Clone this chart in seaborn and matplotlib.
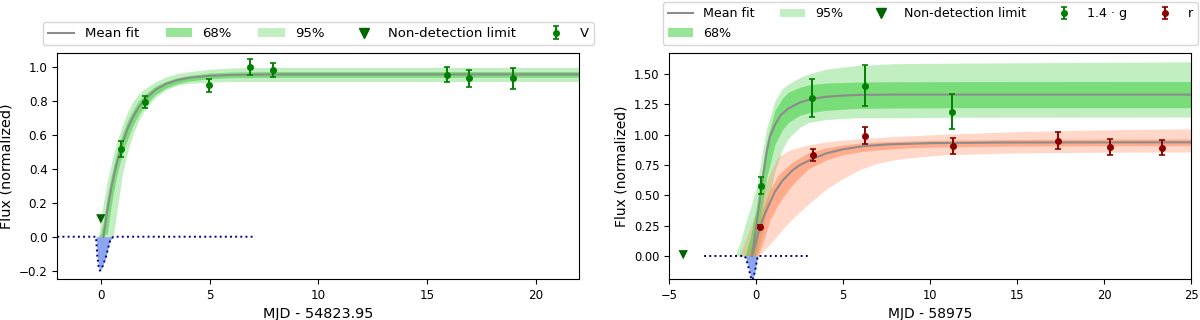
import numpy as np
import pandas as pd
import matplotlib
matplotlib.use("Agg")
import matplotlib.pyplot as plt
from matplotlib.lines import Line2D
from matplotlib.patches import Patch
import seaborn as sns

# ---------------- Left panel (V band) ----------------
V_t = [0.91, 2.02, 4.96, 6.88, 7.9, 15.9, 16.92, 18.94]
V_flux = [0.515, 0.794, 0.89, 1.0, 0.979, 0.954, 0.931, 0.931]
V_err = [0.048, 0.035, 0.04, 0.046, 0.042, 0.042, 0.05, 0.063]
V_nd_t = [0.0]
V_nd_flux = [0.105]

fitV_t = [0.12, 0.3, 0.5, 0.75, 1.0, 1.25, 1.5, 1.75, 2.0, 2.5, 3.0, 3.5, 4.0, 5.0, 6.0, 8.0, 22.0]
fitV_mean = [0.0, 0.155, 0.298, 0.441, 0.553, 0.641, 0.709, 0.763, 0.805, 0.863, 0.899, 0.921, 0.934, 0.947, 0.952, 0.955, 0.955]

bandV_t = [-0.11, 0.0, 0.12, 0.3, 0.5, 0.57, 0.75, 1.0, 1.25, 1.5, 1.75, 2.0, 2.5, 3.0, 3.5, 4.0, 5.0, 6.0, 8.0, 22.0]
V_up95 = [0.0, 0.10, 0.20, 0.33, 0.44, 0.48, 0.56, 0.66, 0.74, 0.80, 0.84, 0.87, 0.91, 0.94, 0.96, 0.97, 0.985, 0.993, 0.997, 0.997]
V_up68 = [0.0, 0.02, 0.09, 0.24, 0.37, 0.41, 0.50, 0.61, 0.69, 0.75, 0.80, 0.835, 0.885, 0.915, 0.935, 0.948, 0.963, 0.969, 0.972, 0.972]
V_lo68 = [0.0, 0.0, 0.0, 0.02, 0.20, 0.25, 0.37, 0.49, 0.58, 0.66, 0.72, 0.77, 0.835, 0.875, 0.90, 0.915, 0.93, 0.936, 0.938, 0.938]
V_lo95 = [0.0, 0.0, 0.0, 0.0, 0.0, 0.0, 0.16, 0.37, 0.51, 0.61, 0.685, 0.745, 0.82, 0.865, 0.89, 0.902, 0.91, 0.913, 0.913, 0.913]

dipV_t = [-2.0, -0.22, -0.19, -0.16, -0.1, -0.04, 0.05, 0.15, 0.24, 0.33, 0.42, 0.5, 0.58, 7.0]
dipV_y = [0.0, 0.0, -0.06, -0.118, -0.175, -0.2, -0.185, -0.15, -0.118, -0.07, -0.027, -0.01, 0.0, 0.0]

# ---------------- Right panel (g and r bands) ----------------
g_t = [0.28, 3.22, 6.26, 11.27]
g_flux = [0.58, 1.303, 1.404, 1.189]
g_err = [0.07, 0.158, 0.168, 0.146]
r_t = [0.22, 3.26, 6.26, 11.31, 17.32, 20.32, 23.34]
r_flux = [0.24, 0.831, 0.992, 0.908, 0.95, 0.90, 0.894]
r_err = [0.012, 0.05, 0.072, 0.067, 0.07, 0.065, 0.065]
R_nd_t = [-4.2]
R_nd_flux = [0.01]

fitg_t = [-0.25, 0.0, 0.11, 0.31, 0.6, 0.8, 1.07, 1.4, 1.84, 2.5, 3.22, 4.0, 5.0, 6.0, 8.0, 25.0]
fitg_mean = [0.0, 0.25, 0.365, 0.58, 0.863, 0.99, 1.08, 1.16, 1.215, 1.265, 1.295, 1.312, 1.322, 1.328, 1.33, 1.33]

bandg_t = [-1.24, -0.9, -0.65, -0.35, -0.07, 0.02, 0.35, 0.6, 1.07, 1.5, 1.84, 2.5, 3.0, 4.0, 5.67, 8.0, 12.0, 25.0]
g_up95 = [0.0, 0.12, 0.255, 0.39, 0.53, 0.57, 0.863, 1.056, 1.278, 1.38, 1.417, 1.47, 1.5, 1.54, 1.568, 1.585, 1.59, 1.60]
g_up68 = [0.0, 0.0, 0.0, 0.15, 0.35, 0.42, 0.72, 0.95, 1.2, 1.3, 1.35, 1.39, 1.41, 1.425, 1.433, 1.436, 1.437, 1.438]
g_lo68 = [0.0, 0.0, 0.0, 0.0, 0.0, 0.08, 0.42, 0.65, 0.92, 1.04, 1.10, 1.16, 1.18, 1.20, 1.215, 1.22, 1.222, 1.222]
g_lo95 = [0.0, 0.0, 0.0, 0.0, 0.0, 0.0, 0.2, 0.4, 0.7, 0.88, 0.97, 1.06, 1.10, 1.125, 1.138, 1.14, 1.143, 1.145]

fitr_t = [-0.25, 0.0, 0.23, 0.5, 1.07, 1.5, 2.03, 2.5, 3.22, 4.0, 5.0, 6.15, 7.6, 10.0, 14.0, 25.0]
fitr_mean = [0.0, 0.13, 0.245, 0.35, 0.53, 0.62, 0.70, 0.75, 0.80, 0.845, 0.88, 0.905, 0.92, 0.93, 0.935, 0.937]

bandr_t = [-1.0, -0.5, 0.0, 0.1, 0.4, 0.8, 1.27, 2.03, 3.0, 4.0, 5.0, 6.0, 7.0, 8.0, 9.5, 11.0, 15.0, 20.0, 25.0]
r_up95 = [0.0, 0.18, 0.36, 0.40, 0.53, 0.69, 0.82, 0.88, 0.915, 0.94, 0.955, 0.965, 0.975, 0.985, 0.995, 1.005, 1.025, 1.04, 1.048]
r_up68 = [0.0, 0.0, 0.2, 0.25, 0.4, 0.55, 0.67, 0.77, 0.85, 0.89, 0.915, 0.93, 0.94, 0.945, 0.95, 0.955, 0.96, 0.963, 0.965]
r_lo68 = [0.0, 0.0, 0.0, 0.0, 0.12, 0.3, 0.43, 0.58, 0.72, 0.79, 0.835, 0.86, 0.875, 0.885, 0.895, 0.90, 0.906, 0.908, 0.91]
r_lo95 = [0.0, 0.0, 0.0, 0.0, 0.04, 0.1, 0.18, 0.3, 0.43, 0.55, 0.64, 0.715, 0.765, 0.795, 0.82, 0.835, 0.85, 0.855, 0.857]

dipR_t = [-3.0, -0.66, -0.55, -0.44, -0.33, -0.22, -0.13, -0.04, 0.03, 0.09, 3.0]
dipR_y = [0.0, 0.0, -0.04, -0.1, -0.17, -0.2, -0.16, -0.1, -0.04, 0.0, 0.0]

# ---------------- styling ----------------
GREEN_BAND = "limegreen"
RED_BAND = "coral"
MEAN_COLOR = "#8c8c8c"

fig = plt.figure(figsize=(12, 3.2), dpi=100)
axL = fig.add_axes([0.04775, 0.128, 0.435, 0.7053])
axR = fig.add_axes([0.55775, 0.128, 0.435, 0.7053])


def draw_band(ax, t, lo95, lo68, up68, up95, color):
    t = np.asarray(t)
    ax.fill_between(t, lo95, up95, color=color, alpha=0.3, lw=0, zorder=1)
    ax.fill_between(t, lo68, up68, color=color, alpha=0.5, lw=0, zorder=1.1)


def draw_mean(ax, t, m):
    df = pd.DataFrame({"t": t, "m": m})
    sns.lineplot(data=df, x="t", y="m", ax=ax, color=MEAN_COLOR, lw=1.5,
                 sort=False, estimator=None, legend=False, zorder=2)


def draw_dip(ax, t, y):
    df = pd.DataFrame({"t": t, "y": y})
    ax.fill_between(df["t"], df["y"], 0, color="royalblue", alpha=0.6, lw=0, zorder=2.5)
    sns.lineplot(data=df, x="t", y="y", ax=ax, color="darkblue", lw=1.4,
                 linestyle=":", sort=False, estimator=None, legend=False, zorder=2.6)


def draw_nd(ax, t, f):
    df = pd.DataFrame({"t": t, "f": f})
    sns.scatterplot(data=df, x="t", y="f", ax=ax, marker="v", color="darkgreen",
                    s=45, edgecolor="none", legend=False, zorder=4)


eb_kw = dict(fmt="o", ms=4, capsize=2, elinewidth=1.4, capthick=1.2, zorder=5)

# Left
draw_band(axL, bandV_t, V_lo95, V_lo68, V_up68, V_up95, GREEN_BAND)
draw_mean(axL, fitV_t, fitV_mean)
draw_dip(axL, dipV_t, dipV_y)
draw_nd(axL, V_nd_t, V_nd_flux)
ebV = axL.errorbar(V_t, V_flux, yerr=V_err, color="green", **eb_kw)

# Right
draw_band(axR, bandg_t, g_lo95, g_lo68, g_up68, g_up95, GREEN_BAND)
draw_band(axR, bandr_t, r_lo95, r_lo68, r_up68, r_up95, RED_BAND)
draw_mean(axR, fitg_t, fitg_mean)
draw_mean(axR, fitr_t, fitr_mean)
draw_dip(axR, dipR_t, dipR_y)
draw_nd(axR, R_nd_t, R_nd_flux)
ebG = axR.errorbar(g_t, g_flux, yerr=g_err, color="green", **eb_kw)
ebR = axR.errorbar(r_t, r_flux, yerr=r_err, color="darkred", **eb_kw)

axL.set_xlim(-2, 22)
axL.set_ylim(-0.249, 1.079)
axR.set_xlim(-5, 25)
axR.set_ylim(-0.19, 1.67)
axR.set_yticks([0.0, 0.25, 0.5, 0.75, 1.0, 1.25, 1.5])

axL.set_xlabel("MJD - 54823.95", fontsize=10.4)
axL.set_ylabel("Flux (normalized)", fontsize=10.4)
axL.tick_params(labelsize=8.6)
axR.set_xlabel("MJD - 58975", fontsize=10.0)
axR.set_ylabel("Flux (normalized)", fontsize=10.0)
axR.tick_params(labelsize=8.3)

h_mean = Line2D([], [], color=MEAN_COLOR, lw=1.5)
h68 = Patch(facecolor=GREEN_BAND, alpha=0.5, lw=0)
h95 = Patch(facecolor=GREEN_BAND, alpha=0.3, lw=0)
h_nd = Line2D([], [], marker="v", color="darkgreen", ls="none", ms=7)

axL.legend([h_mean, h68, h95, h_nd, ebV],
           ["Mean fit", "68%", "95%", "Non-detection limit", "V"],
           ncol=5, loc="lower center", bbox_to_anchor=(0.5, 1.035),
           fontsize=9.5, borderaxespad=0)
axR.legend([h_mean, h68, h95, h_nd, ebG, ebR],
           ["Mean fit", "68%", "95%", "Non-detection limit", "1.4 · g", "r"],
           ncol=5, loc="lower center", bbox_to_anchor=(0.5, 1.038),
           fontsize=9.1, borderaxespad=0)

fig.savefig("out.png", dpi=100)
